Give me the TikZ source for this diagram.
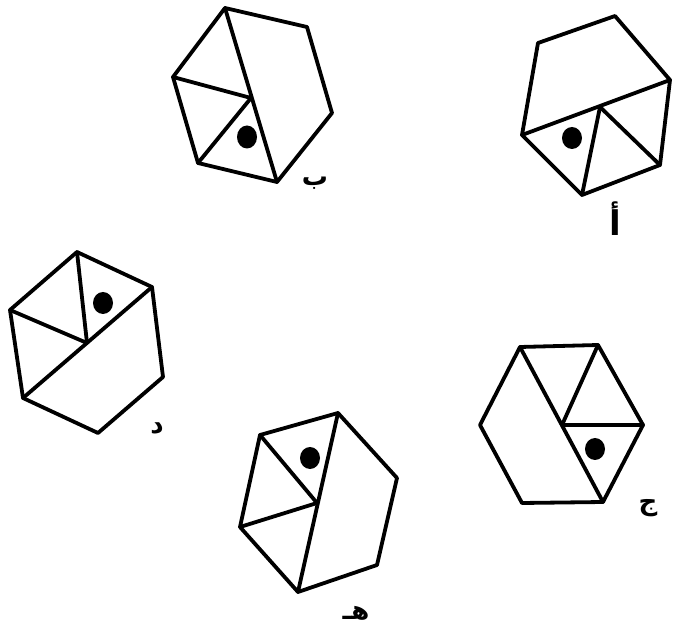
\documentclass[tikz,border=0pt]{standalone}
\usepackage{fontspec}
\newfontfamily\arabicfont[Script=Arabic]{DejaVu Sans}
\TeXXeTstate=1
\tikzset{
  hexline/.style={line width=3.8pt, line join=round, line cap=round, draw=black},
  dotmark/.style={fill=black},
  lbl/.style={font=\arabicfont\bfseries\fontsize{26}{30}\selectfont, inner sep=0pt}
}
\begin{document}
\begin{tikzpicture}[x=1pt,y=-1pt]
\useasboundingbox (0,0) rectangle (673,631);
% Hexagon A (top right)
\coordinate (a1) at (538,43); \coordinate (a2) at (615,16); \coordinate (a3) at (670,80);
\coordinate (a4) at (660,165); \coordinate (a5) at (582,195); \coordinate (a6) at (522,135);
\coordinate (ac) at (600,107);
\draw[hexline] (a1)--(a2)--(a3)--(a4)--(a5)--(a6)--cycle;
\draw[hexline] (a6)--(a3);
\draw[hexline] (ac)--(a5);
\draw[hexline] (ac)--(a4);
\fill[dotmark] (572,138) ellipse (10 and 11);
\node[lbl] (la) at (615,219) {\fontsize{34}{38}\selectfont\beginR أ\endR};
% Hexagon B (top middle)
\coordinate (b1) at (225,8); \coordinate (b2) at (307,27); \coordinate (b3) at (332,113);
\coordinate (b4) at (277,182); \coordinate (b5) at (198,163); \coordinate (b6) at (173,77);
\coordinate (bc) at (251,98);
\draw[hexline] (b1)--(b2)--(b3)--(b4)--(b5)--(b6)--cycle;
\draw[hexline] (b1)--(b4);
\draw[hexline] (bc)--(b6);
\draw[hexline] (bc)--(b5);
\fill[dotmark] (247,137) ellipse (10 and 11.5);
\node[lbl] (lb) at (315,183) {\beginR ب\endR};
% Hexagon D (left)
\coordinate (d1) at (77,252); \coordinate (d2) at (152,287); \coordinate (d3) at (163,377);
\coordinate (d4) at (98,433); \coordinate (d5) at (23,398); \coordinate (d6) at (10,310);
\coordinate (dc) at (87,343);
\draw[hexline] (d1)--(d2)--(d3)--(d4)--(d5)--(d6)--cycle;
\draw[hexline] (d2)--(d5);
\draw[hexline] (dc)--(d1);
\draw[hexline] (dc)--(d6);
\fill[dotmark] (103,303) ellipse (10 and 11);
\node[lbl] (ld) at (157,428) {\beginR د\endR};
% Hexagon J (right)
\coordinate (j1) at (520,347); \coordinate (j2) at (598,345); \coordinate (j3) at (643,425);
\coordinate (j4) at (603,502); \coordinate (j5) at (522,503); \coordinate (j6) at (480,425);
\coordinate (jc) at (562,425);
\draw[hexline] (j1)--(j2)--(j3)--(j4)--(j5)--(j6)--cycle;
\draw[hexline] (j1)--(j4);
\draw[hexline] (jc)--(j2);
\draw[hexline] (jc)--(j3);
\fill[dotmark] (595,449) ellipse (10 and 11);
\node[lbl] (lj) at (648,508) {\beginR ج\endR};
% Hexagon H (bottom middle)
\coordinate (h1) at (260,435); \coordinate (h2) at (338,413); \coordinate (h3) at (397,478);
\coordinate (h4) at (377,565); \coordinate (h5) at (298,592); \coordinate (h6) at (240,527);
\coordinate (hc) at (317,503);
\draw[hexline] (h1)--(h2)--(h3)--(h4)--(h5)--(h6)--cycle;
\draw[hexline] (h2)--(h5);
\draw[hexline] (hc)--(h1);
\draw[hexline] (hc)--(h6);
\fill[dotmark] (310,458) ellipse (10 and 11);
\node[lbl] (lh) at (356,613) {\beginR هـ\endR};
\end{tikzpicture}
\end{document}
